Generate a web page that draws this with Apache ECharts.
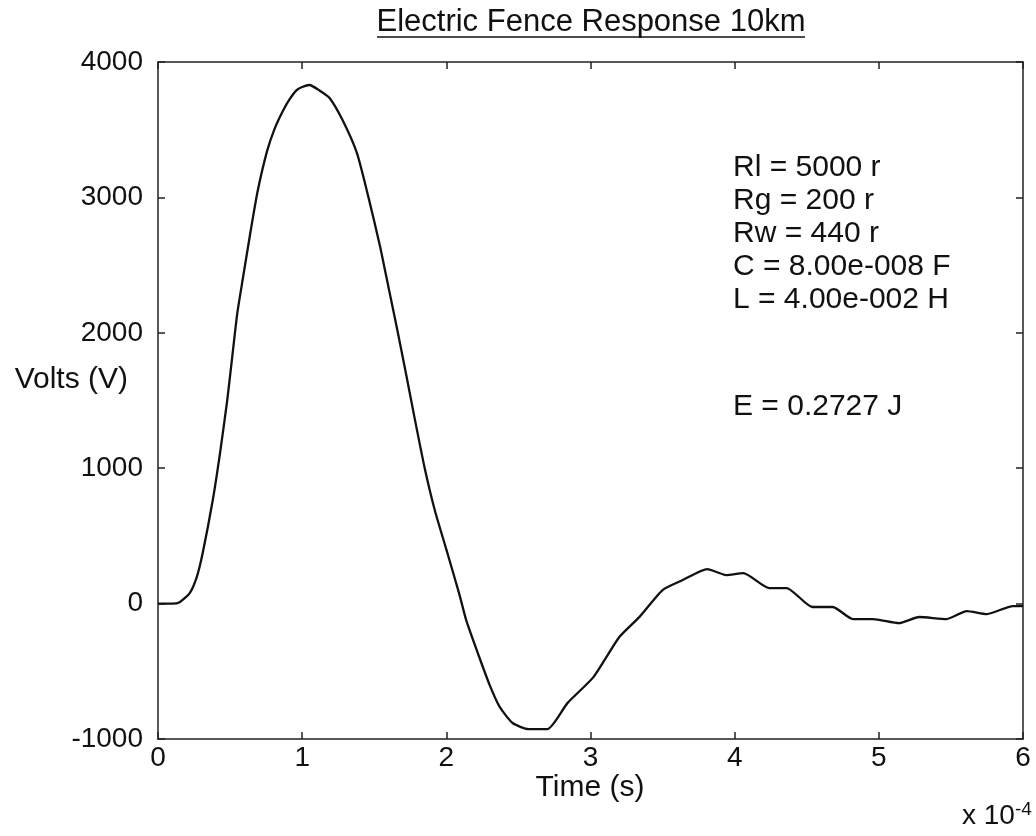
<!DOCTYPE html>
<html>
<head>
<meta charset="utf-8">
<script src="https://cdn.jsdelivr.net/npm/echarts@6/dist/echarts.min.js"></script>
<style>
html,body{margin:0;padding:0;background:#fff;}
#chart{width:1036px;height:836px;}
</style>
</head>
<body>
<div id="chart"></div>
<script>
// Time in units of 1e-4 s
var timeE4 = [0, 0.1, 0.15, 0.22, 0.27, 0.31, 0.38, 0.43, 0.48, 0.52, 0.55, 0.59, 0.64, 0.69, 0.756, 0.81, 0.867, 0.91, 0.96, 1.0, 1.05, 1.12, 1.19, 1.28, 1.38, 1.46, 1.54, 1.60, 1.66, 1.72, 1.78, 1.85, 1.92, 2.0, 2.09, 2.14, 2.23, 2.30, 2.37, 2.46, 2.57, 2.70, 2.84, 3.02, 3.20, 3.34, 3.50, 3.64, 3.81, 3.94, 4.06, 4.24, 4.36, 4.54, 4.68, 4.82, 4.96, 5.14, 5.28, 5.47, 5.61, 5.75, 5.93, 6.0];
var volts = [0, 0, 10, 78, 200, 373, 765, 1110, 1500, 1870, 2145, 2410, 2735, 3040, 3340, 3510, 3640, 3720, 3790, 3815, 3830, 3790, 3734, 3571, 3327, 3000, 2640, 2330, 2020, 1700, 1370, 1000, 690, 400, 70, -130, -400, -600, -763, -882, -927, -927, -735, -543, -247, -98, 100, 174, 255, 211, 225, 115, 115, -25, -25, -114, -114, -144, -99, -114, -55, -77, -18, -18];
var xTicks = [0, 1, 2, 3, 4, 5, 6];
var yTicks = [-1000, 0, 1000, 2000, 3000, 4000];
var titleText = 'Electric Fence Response 10km';
var xName = 'Time (s)';
var yName = 'Volts (V)';
var notes = ['Rl = 5000 r', 'Rg = 200 r', 'Rw = 440 r', 'C = 8.00e-008 F', 'L = 4.00e-002 H'];
var energyNote = 'E = 0.2727 J';

var FONT = '"Liberation Sans", Arial, Helvetica, sans-serif';
var seriesData = timeE4.map(function (t, i) { return [t, volts[i]]; });

var chart = echarts.init(document.getElementById('chart'), null, {renderer: 'canvas'});

var axisLineStyle = {color: '#222', width: 1.5};
var tickCommon = {show: true, inside: true, length: 7, lineStyle: {color: '#222', width: 1.5}};
var plainNum = function (v) { return String(v); };

chart.setOption({
  animation: false,
  backgroundColor: '#fff',
  grid: {left: 158, right: 13, top: 62, bottom: 97, containLabel: false, outerBoundsMode: 'none'},
  xAxis: [{
    type: 'value', min: xTicks[0], max: xTicks[xTicks.length - 1], interval: 1,
    position: 'bottom',
    axisLine: {show: true, onZero: false, lineStyle: axisLineStyle},
    axisTick: tickCommon,
    splitLine: {show: false},
    axisLabel: {color: '#111', fontFamily: FONT, fontSize: 28, margin: 5, formatter: plainNum}
  }, {
    type: 'value', min: xTicks[0], max: xTicks[xTicks.length - 1], interval: 1,
    position: 'top',
    axisLine: {show: true, onZero: false, lineStyle: axisLineStyle},
    axisTick: tickCommon,
    splitLine: {show: false},
    axisLabel: {show: false}
  }],
  yAxis: [{
    type: 'value', min: yTicks[0], max: yTicks[yTicks.length - 1], interval: 1000,
    position: 'left',
    axisLine: {show: true, onZero: false, lineStyle: axisLineStyle},
    axisTick: tickCommon,
    splitLine: {show: false},
    axisLabel: {color: '#111', fontFamily: FONT, fontSize: 28, margin: 15, formatter: plainNum}
  }, {
    type: 'value', min: yTicks[0], max: yTicks[yTicks.length - 1], interval: 1000,
    position: 'right',
    axisLine: {show: true, onZero: false, lineStyle: axisLineStyle},
    axisTick: tickCommon,
    splitLine: {show: false},
    axisLabel: {show: false}
  }],
  series: [{
    type: 'line',
    xAxisIndex: 0, yAxisIndex: 0,
    data: seriesData,
    showSymbol: false,
    symbol: 'none',
    smooth: 0.2,
    lineStyle: {color: '#111', width: 2.3, join: 'round'},
    silent: true
  }],
  graphic: [
    {type: 'text', x: 591, y: 22, style: {text: titleText, font: '31px ' + FONT, fill: '#111', align: 'center', verticalAlign: 'middle'}},
    {type: 'line', shape: {x1: 377, y1: 37, x2: 805, y2: 37}, style: {stroke: '#111', lineWidth: 1.5}},
    {type: 'text', x: 128, y: 380, style: {text: yName, font: '30px ' + FONT, fill: '#111', align: 'right', verticalAlign: 'middle'}},
    {type: 'text', x: 590, y: 788, style: {text: xName, font: '30px ' + FONT, fill: '#111', align: 'center', verticalAlign: 'middle'}},
    {type: 'text', left: 733, top: 151, style: {text: notes.join('\n'), font: '30px ' + FONT, fill: '#111', lineHeight: 33}},
    {type: 'text', left: 733, top: 390, style: {text: energyNote, font: '30px ' + FONT, fill: '#111', lineHeight: 33}},
    {type: 'text', left: 962, top: 800, style: {
      text: 'x 10{sup|-4}', font: '28px ' + FONT, fill: '#111',
      rich: {sup: {fontSize: 19, fontFamily: FONT, fill: '#111', verticalAlign: 'top', padding: [0, 0, 14, 0]}}
    }}
  ]
});
</script>
</body>
</html>
